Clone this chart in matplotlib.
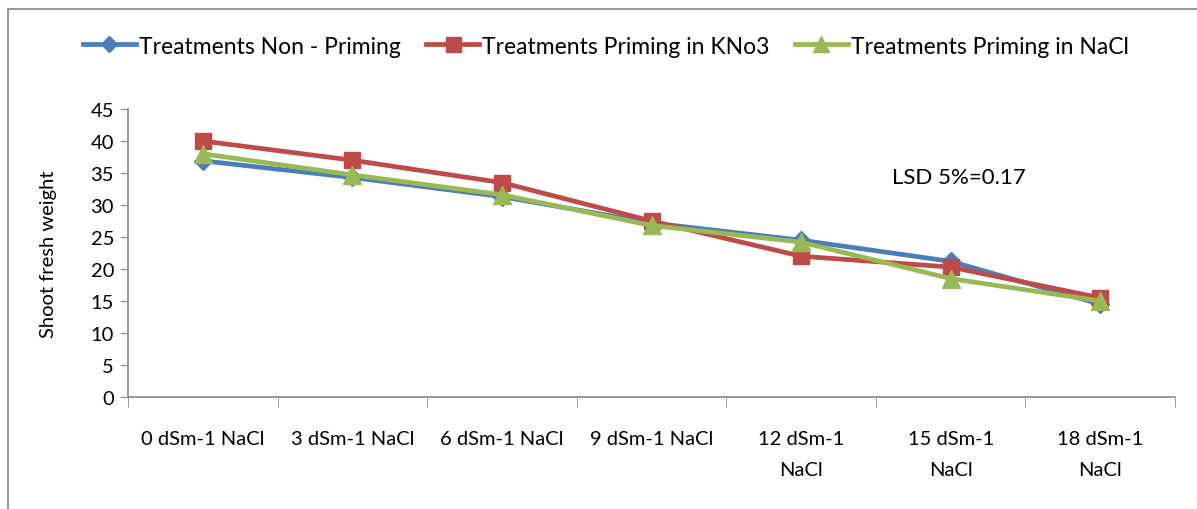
import matplotlib.pyplot as plt
from matplotlib.patches import Rectangle

categories = ["0 dSm-1 NaCl", "3 dSm-1 NaCl", "6 dSm-1 NaCl", "9 dSm-1 NaCl",
              "12 dSm-1\nNaCl", "15 dSm-1\nNaCl", "18 dSm-1\nNaCl"]
non_priming = [36.9, 34.3, 31.3, 27.2, 24.5, 21.2, 14.5]
priming_kno3 = [40.0, 37.0, 33.5, 27.5, 22.0, 20.3, 15.5]
priming_nacl = [38.0, 34.7, 31.6, 26.8, 24.2, 18.5, 15.0]
series_names = ["Treatments Non - Priming", "Treatments Priming in KNo3",
                "Treatments Priming in NaCl"]
y_ticks = list(range(0, 50, 5))

plt.rcParams['font.family'] = ['Lato', 'DejaVu Sans']

W, H = 1197, 510
fig = plt.figure(figsize=(W / 100, H / 100), dpi=100)
ax = fig.add_axes([128 / W, 1 - 398 / H, (1175 - 128) / W, (398 - 110) / H])

x = list(range(len(categories)))
styles = [
    (non_priming, "#4A7EBB", "D", 9),
    (priming_kno3, "#BE4B48", "s", 12),
    (priming_nacl, "#98B954", "^", 13),
]
for (vals, color, marker, ms), name in zip(styles, series_names):
    ax.plot(x, vals, color=color, marker=marker, markersize=ms, linewidth=3.4,
            label=name, solid_joinstyle="round")

ax.set_xlim(-0.5, len(categories) - 0.5)
ax.set_ylim(0, 45)
ax.set_yticks(y_ticks)
ax.set_xticks(x)
ax.set_xticklabels(categories, fontsize=14.5, linespacing=1.95)
ax.set_xticks([i - 0.5 for i in range(len(categories) + 1)], minor=True)
ax.tick_params(axis="x", which="major", length=0, pad=24)
ax.tick_params(axis="x", which="minor", length=7, color="#888888")
ax.tick_params(axis="y", length=6, color="#888888", labelsize=14.5, pad=4)
for s in ["top", "right"]:
    ax.spines[s].set_visible(False)
for s in ["left", "bottom"]:
    ax.spines[s].set_color("#888888")
    ax.spines[s].set_linewidth(1.2)

ax.set_ylabel("Shoot fresh weight", fontsize=14.5, labelpad=24)
ax.text(0.73, 34.4, "LSD 5%=0.17", transform=ax.get_yaxis_transform(),
        fontsize=16, va="center", ha="left")

fig.legend(loc="center", bbox_to_anchor=(606 / W, 1 - 47 / H), ncol=3,
           frameon=False, fontsize=16.5, handlelength=2.3, handletextpad=0.15,
           columnspacing=1.1, markerscale=0.9)

fig.patches.append(Rectangle((8 / W, -0.1), 1.2, 1 - 10 / H + 0.1,
                             transform=fig.transFigure, fill=False,
                             edgecolor="#999999", linewidth=1.5))

fig.savefig("out.png", dpi=100)
